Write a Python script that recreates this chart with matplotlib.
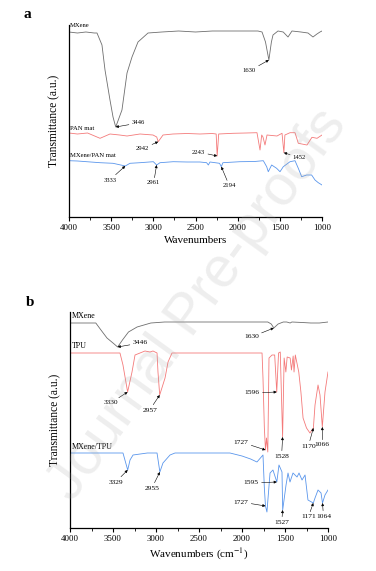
import matplotlib
matplotlib.use("Agg")
import matplotlib.pyplot as plt
from matplotlib.ticker import MultipleLocator

plt.rcParams['font.family'] = ['Liberation Serif', 'DejaVu Serif']
plt.rcParams['mathtext.fontset'] = 'stix'

# ---- panel a: spectra (wavenumber, transmittance a.u.) ----
a_mx_w = [4000, 3900, 3800, 3700, 3668, 3609, 3573, 3514, 3478, 3446, 3372, 3312, 3253, 3182,
          3063, 2900, 2700, 2500, 2300, 2100, 1900, 1760, 1711, 1670, 1630, 1600, 1581, 1522,
          1460, 1403, 1356, 1250, 1166, 1107, 1060, 1024, 1000]
a_mx_t = [185, 184, 185, 184, 184, 172, 147, 117, 100, 90, 107, 144, 160, 175,
          184, 185, 186, 185, 186, 186, 186, 186, 185, 175, 157, 175, 182, 186,
          185, 180, 186, 185, 184, 180, 183, 185, 186]

a_pan_w = [4000, 3900, 3780, 3632, 3514, 3400, 3312, 3158, 3004, 2960, 2942, 2885, 2767, 2600,
           2447, 2300, 2255, 2243, 2225, 2055, 1900, 1771, 1735, 1715, 1700, 1676, 1652, 1534,
           1474, 1452, 1440, 1379, 1320, 1281, 1178, 1119, 1059, 1000]
a_pan_t = [84, 83, 84, 78.7, 83, 82, 81, 83, 82, 80, 75.3, 82, 83, 83.5,
           83, 83.5, 83, 61, 83, 83.7, 84, 84.3, 67, 82, 80, 72, 82, 81,
           83.7, 64.3, 82, 84.3, 84.3, 73.7, 72, 79.7, 78.7, 82]

a_mxpan_w = [4000, 3900, 3790, 3632, 3478, 3333, 3277, 3158, 3000, 2961, 2921, 2763, 2600, 2447,
             2368, 2348, 2328, 2215, 2194, 2175, 1972, 1800, 1696, 1656, 1637, 1597, 1538, 1498,
             1459, 1379, 1320, 1281, 1241, 1182, 1123, 1083, 1044, 1000]
a_mxpan_t = [56.3, 56, 55.3, 54.3, 53.7, 51, 53.7, 54.3, 55.3, 52, 54.3, 55.3, 55, 55,
             54.3, 52, 55, 53.7, 50.3, 54.3, 55.3, 55.5, 56.3, 50.3, 45.3, 52, 48.7, 45.3,
             50.3, 55.3, 56.3, 48.7, 40.3, 42, 42, 37, 34.3, 32]

# peaks in panel a: (series, wavenumber, value, text offset in px, ha)
a_peaks = [
    ("mx", 3446, 90, (16, 4), "left"),
    ("mx", 1630, 157, (-13, -11), "right"),
    ("pan", 2942, 75.3, (-9, -7), "right"),
    ("pan", 2243, 61, (-12, 4), "right"),
    ("pan", 1452, 64.3, (9, -5), "left"),
    ("mxpan", 3333, 51, (-9, -14), "right"),
    ("mxpan", 2961, 52, (-3, -18), "center"),
    ("mxpan", 2194, 50.3, (8, -19), "center"),
]

# ---- panel b ----
b_mx_w = [4000, 3800, 3700, 3640, 3570, 3500, 3446, 3390, 3320, 3220, 3060, 2900, 2600, 2300,
          2000, 1760, 1700, 1660, 1630, 1580, 1520, 1480, 1440, 1420, 1300, 1200, 1100, 1000]
b_mx_t = [205, 205, 205, 198, 190, 185, 181, 188, 196, 201, 205, 206, 206, 206,
          206, 206, 206, 204, 200, 204, 206, 206, 205, 206, 205.5, 205, 205, 206]

b_tpu_w = [4000, 3700, 3419, 3384, 3330, 3279, 3244, 3186, 3128, 3070, 3035, 2988, 2977, 2957,
           2895, 2860, 2814, 2500, 2200, 1900, 1767, 1756, 1740, 1727, 1715, 1700, 1686, 1651,
           1620, 1596, 1575, 1555, 1528, 1510, 1490, 1475, 1440, 1425, 1405, 1395, 1380, 1340,
           1315, 1290, 1250, 1210, 1170, 1151, 1116, 1093, 1066, 1035, 1000]
b_tpu_t = [175, 175, 175, 163, 136, 156, 173, 175, 177, 176, 177, 175, 156, 133,
           150, 166, 175, 175, 175, 175, 175, 150, 100, 78, 90, 76, 170, 173,
           173, 136, 175, 176, 91, 170, 156, 171, 170, 158, 172, 156, 173, 156,
           136, 110, 100, 95, 100, 123, 143, 133, 101, 136, 156]

b_mxtpu_w = [4000, 3700, 3384, 3329, 3302, 3267, 3100, 2988, 2955, 2919, 2837, 2779, 2500, 2140,
             2000, 1900, 1826, 1756, 1740, 1727, 1710, 1674, 1640, 1595, 1570, 1535, 1527, 1488,
             1465, 1442, 1407, 1360, 1337, 1302, 1267, 1233, 1171, 1151, 1116, 1081, 1064, 1035,
             1000]
b_mxtpu_t = [75, 75, 75, 58, 68, 73, 75, 75, 56, 65, 73, 75, 75, 75,
             72, 69, 66, 73, 40, 22, 16, 55, 58, 46, 63, 56, 18, 43,
             55, 46, 55, 51, 55, 48, 53, 28, 25, 30, 38, 35, 25, 33,
             38]

b_peaks = [
    ("mx", 3446, 181, (15, 4), "left"),
    ("mx", 1630, 200, (-15, -9), "right"),
    ("tpu", 3330, 136, (-17, -11), "center"),
    ("tpu", 2957, 133, (-10, -15), "center"),
    ("tpu", 1596, 136, (-17, -1), "right"),
    ("tpu", 1727, 78, (-17, 8), "right"),
    ("tpu", 1528, 91, (-1, -19), "center"),
    ("tpu", 1170, 100, (-5, -18), "center"),
    ("tpu", 1066, 101, (0, -18), "center"),
    ("mxtpu", 3329, 58, (-12, -12), "center"),
    ("mxtpu", 2955, 56, (-8, -16), "center"),
    ("mxtpu", 1595, 46, (-18, -1), "right"),
    ("mxtpu", 1727, 22, (-17, 4), "right"),
    ("mxtpu", 1527, 18, (-1, -12), "center"),
    ("mxtpu", 1171, 25, (-5, -14), "center"),
    ("mxtpu", 1064, 25, (1, -13), "center"),
]

grey = "#6e6e6e"
red = "#f47a7a"
blue = "#5a96ec"
PX = 0.72  # points per pixel at 100 dpi

fig = plt.figure(figsize=(3.76, 5.71), dpi=100)
ax_a = fig.add_axes([69 / 376, 1 - 217 / 571, 253 / 376, 192 / 571])
ax_b = fig.add_axes([70 / 376, 1 - 528 / 571, 258 / 376, 216 / 571])


def style_axis(ax, ymax, xlabel):
    ax.set_xlim(4000, 1000)
    ax.set_ylim(0, ymax)
    for side in ("top", "right"):
        ax.spines[side].set_visible(False)
    ax.spines["left"].set_linewidth(0.9)
    ax.spines["bottom"].set_linewidth(0.9)
    ax.xaxis.set_major_locator(MultipleLocator(500))
    ax.xaxis.set_minor_locator(MultipleLocator(250))
    ax.tick_params(axis="x", which="major", direction="out", length=3, width=0.8,
                   labelsize=6.4, pad=2)
    ax.tick_params(axis="x", which="minor", direction="out", length=1.8, width=0.6)
    ax.set_yticks([])
    ax.set_xlabel(xlabel, fontsize=8, labelpad=3)
    ax.set_ylabel("Transmittance (a.u.)", fontsize=8.3, labelpad=6)


def add_peaks(ax, peaks, fs):
    for key, w, v, (dx, dy), ha in peaks:
        ax.annotate(str(w), xy=(w, v), xytext=(dx * PX, dy * PX), textcoords="offset points",
                    ha=ha, va="center", fontsize=fs,
                    arrowprops=dict(arrowstyle="-|>", color="k", lw=0.4,
                                    mutation_scale=4, shrinkA=0, shrinkB=0))


# panel a
ax_a.plot(a_mx_w, a_mx_t, color=grey, lw=0.6)
ax_a.plot(a_pan_w, a_pan_t, color=red, lw=0.6)
ax_a.plot(a_mxpan_w, a_mxpan_t, color=blue, lw=0.6)
style_axis(ax_a, 192, "Wavenumbers")
ax_a.text(3990, 189, "MXene", fontsize=4.8, ha="left", va="bottom")
ax_a.text(3990, 86, "PAN mat", fontsize=4.8, ha="left", va="bottom")
ax_a.text(3990, 59, "MXene/PAN mat", fontsize=4.8, ha="left", va="bottom")
add_peaks(ax_a, a_peaks, 4.8)

# panel b
ax_b.plot(b_mx_w, b_mx_t, color=grey, lw=0.6)
ax_b.plot(b_tpu_w, b_tpu_t, color=red, lw=0.6)
ax_b.plot(b_mxtpu_w, b_mxtpu_t, color=blue, lw=0.6)
style_axis(ax_b, 216, "Wavenumbers (cm$^{-1}$)")
ax_b.text(3980, 208, "MXene", fontsize=5.8, ha="left", va="bottom")
ax_b.text(3980, 178, "TPU", fontsize=5.8, ha="left", va="bottom")
ax_b.text(3980, 77, "MXene/TPU", fontsize=5.8, ha="left", va="bottom")
add_peaks(ax_b, b_peaks, 5.4)

fig.text(27 / 376, 1 - 15 / 571, "a", fontsize=11, fontweight="bold", ha="center", va="center")
fig.text(30 / 376, 1 - 302 / 571, "b", fontsize=11, fontweight="bold", ha="center", va="center")

# watermark
fig.text(198 / 376, 1 - 305 / 571, "Journal Pre-proofs", fontsize=41, rotation=54,
         family="Liberation Sans", color="#a0a0a0", alpha=0.18, ha="center", va="center",
         zorder=10)

fig.savefig("out.png", dpi=100)
